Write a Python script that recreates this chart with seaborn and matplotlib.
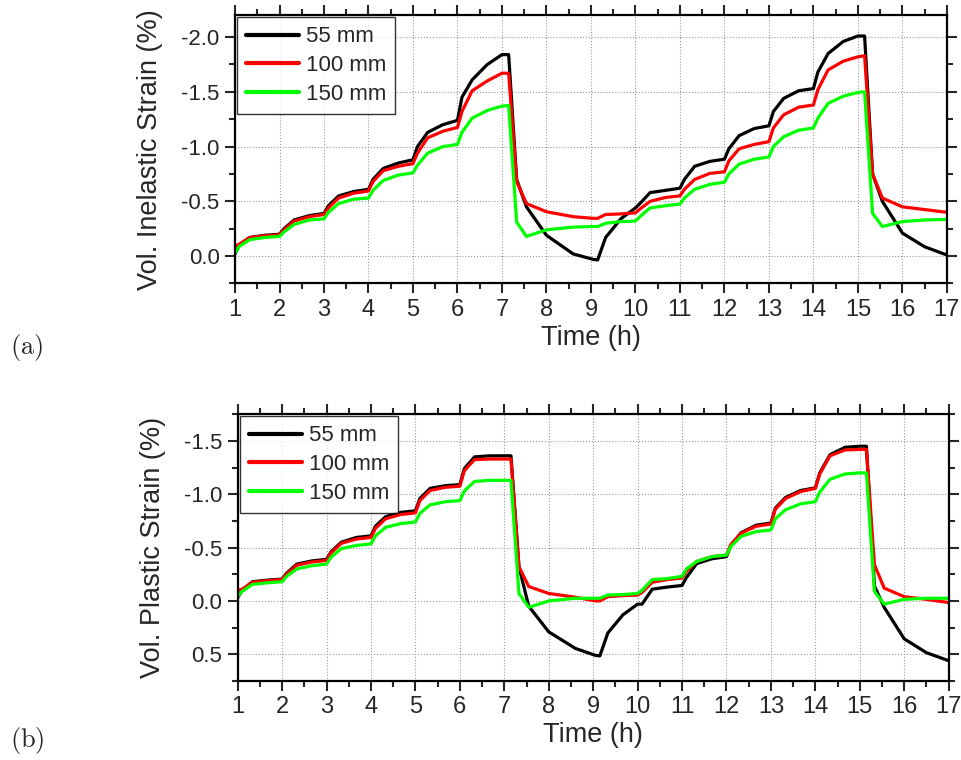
import numpy as np
import pandas as pd
import matplotlib
matplotlib.use('Agg')
import matplotlib.pyplot as plt
import seaborn as sns
from matplotlib.ticker import MultipleLocator

# time points (h), shared by all series
time_h = [1.0, 1.1, 1.33, 1.67, 2.0, 2.1, 2.33, 2.67, 3.0, 3.1, 3.33, 3.67,
          4.0, 4.1, 4.33, 4.67, 5.0, 5.1, 5.33, 5.67, 6.0, 6.1, 6.33, 6.67,
          7.0, 7.15, 7.33, 7.55, 8.0, 8.6, 9.05, 9.15, 9.33, 9.67,
          10.0, 10.1, 10.33, 10.67, 11.0, 11.1, 11.33, 11.67, 12.0, 12.1, 12.33, 12.67,
          13.0, 13.1, 13.33, 13.67, 14.0, 14.1, 14.33, 14.67, 15.0, 15.15,
          15.33, 15.55, 16.0, 16.5, 17.0]

labels = ['55 mm', '100 mm', '150 mm']
colors = ['black', 'red', '#00ff00']

# (a) volumetric inelastic strain (%)
inel_55 = [-0.02, -0.10, -0.17, -0.19, -0.20, -0.25, -0.33, -0.37, -0.39, -0.46, -0.55, -0.59,
           -0.61, -0.70, -0.80, -0.85, -0.88, -1.00, -1.13, -1.20, -1.24, -1.45, -1.61, -1.75,
           -1.84, -1.84, -0.70, -0.45, -0.19, -0.02, 0.03, 0.035, -0.17, -0.34,
           -0.44, -0.48, -0.58, -0.60, -0.62, -0.70, -0.82, -0.865, -0.885, -0.98, -1.10, -1.165,
           -1.19, -1.32, -1.44, -1.51, -1.53, -1.68, -1.85, -1.96, -2.01, -2.01,
           -0.75, -0.50, -0.21, -0.085, -0.01]
inel_100 = [-0.09, -0.11, -0.17, -0.185, -0.195, -0.24, -0.32, -0.36, -0.38, -0.44, -0.53, -0.575,
            -0.595, -0.68, -0.78, -0.82, -0.845, -0.94, -1.08, -1.14, -1.175, -1.32, -1.51, -1.60,
            -1.67, -1.67, -0.68, -0.48, -0.405, -0.36, -0.345, -0.345, -0.38, -0.385,
            -0.395, -0.43, -0.50, -0.535, -0.55, -0.61, -0.70, -0.755, -0.77, -0.87, -0.98, -1.02,
            -1.045, -1.17, -1.29, -1.36, -1.38, -1.52, -1.70, -1.78, -1.82, -1.83,
            -0.75, -0.53, -0.45, -0.425, -0.40]
inel_150 = [-0.03, -0.09, -0.15, -0.17, -0.18, -0.22, -0.29, -0.33, -0.34, -0.40, -0.48, -0.52,
            -0.53, -0.60, -0.69, -0.74, -0.76, -0.83, -0.94, -1.00, -1.02, -1.13, -1.26, -1.33,
            -1.37, -1.375, -0.31, -0.18, -0.24, -0.265, -0.27, -0.27, -0.30, -0.315,
            -0.32, -0.36, -0.44, -0.46, -0.475, -0.53, -0.61, -0.655, -0.675, -0.75, -0.84, -0.885,
            -0.905, -1.00, -1.09, -1.15, -1.17, -1.26, -1.395, -1.46, -1.495, -1.50,
            -0.39, -0.27, -0.315, -0.33, -0.335]

# (b) volumetric plastic strain (%)
plas_55 = [-0.03, -0.10, -0.18, -0.195, -0.205, -0.26, -0.345, -0.375, -0.39, -0.46, -0.55, -0.595,
           -0.61, -0.70, -0.79, -0.83, -0.845, -0.96, -1.055, -1.08, -1.09, -1.24, -1.35, -1.36,
           -1.36, -1.36, -0.32, 0.05, 0.29, 0.445, 0.51, 0.515, 0.30, 0.13,
           0.03, 0.03, -0.11, -0.13, -0.145, -0.22, -0.35, -0.395, -0.415, -0.52, -0.64, -0.71,
           -0.73, -0.87, -0.97, -1.035, -1.06, -1.20, -1.37, -1.44, -1.45, -1.45,
           -0.14, 0.06, 0.355, 0.485, 0.56]
plas_100 = [-0.10, -0.11, -0.175, -0.19, -0.20, -0.25, -0.335, -0.365, -0.38, -0.45, -0.54, -0.58,
            -0.595, -0.68, -0.77, -0.81, -0.825, -0.94, -1.035, -1.065, -1.075, -1.22, -1.325, -1.33,
            -1.33, -1.33, -0.32, -0.135, -0.07, -0.035, 0.0, 0.0, -0.04, -0.05,
            -0.055, -0.08, -0.175, -0.20, -0.215, -0.28, -0.37, -0.415, -0.43, -0.53, -0.635, -0.70,
            -0.72, -0.86, -0.96, -1.025, -1.055, -1.19, -1.36, -1.415, -1.42, -1.42,
            -0.34, -0.12, -0.04, -0.015, 0.015]
plas_150 = [-0.04, -0.09, -0.155, -0.17, -0.18, -0.23, -0.30, -0.33, -0.345, -0.41, -0.49, -0.52,
            -0.535, -0.61, -0.69, -0.725, -0.74, -0.82, -0.90, -0.93, -0.94, -1.03, -1.12, -1.13,
            -1.13, -1.13, -0.07, 0.06, 0.0, -0.025, -0.025, -0.025, -0.055, -0.06,
            -0.07, -0.10, -0.20, -0.21, -0.23, -0.30, -0.37, -0.415, -0.43, -0.51, -0.605, -0.65,
            -0.665, -0.77, -0.855, -0.91, -0.93, -1.02, -1.14, -1.19, -1.20, -1.20,
            -0.09, 0.03, -0.015, -0.025, -0.025]


def long_frame(series):
    parts = []
    for lab, vals in zip(labels, series):
        parts.append(pd.DataFrame({'Time': time_h, 'Strain': vals, 'Sample': lab}))
    return pd.concat(parts, ignore_index=True)


sns.set_style('ticks')
plt.rcParams['font.family'] = ['Liberation Sans', 'DejaVu Sans']
plt.rcParams['mathtext.fontset'] = 'cm'

fig = plt.figure(figsize=(9.62, 7.6), dpi=100)
ax1 = fig.add_axes([0.2443, 0.627, 0.740, 0.353])
ax2 = fig.add_axes([0.2471, 0.104, 0.739, 0.351])

panels = [
    (ax1, [inel_55, inel_100, inel_150], 'Vol. Inelastic Strain (%)', (0.25, -2.2)),
    (ax2, [plas_55, plas_100, plas_150], 'Vol. Plastic Strain (%)', (0.75, -1.75)),
]

for ax, series, ylab, ylim in panels:
    df = long_frame(series)
    sns.lineplot(data=df, x='Time', y='Strain', hue='Sample', palette=dict(zip(labels, colors)),
                 linewidth=2.3, sort=False, ax=ax)
    ax.set_xlim(1, 17)
    ax.set_ylim(*ylim)
    ax.xaxis.set_major_locator(MultipleLocator(1))
    ax.xaxis.set_minor_locator(MultipleLocator(0.5))
    ax.yaxis.set_major_locator(MultipleLocator(0.5))
    ax.yaxis.set_minor_locator(MultipleLocator(0.25))
    ax.yaxis.set_major_formatter(matplotlib.ticker.FormatStrFormatter('%.1f'))
    ax.grid(True, which='major', linestyle=':', color='#999999', linewidth=0.8)
    ax.tick_params(which='both', direction='out', top=True, right=True, width=1.5)
    ax.tick_params(which='major', length=7)
    ax.tick_params(which='minor', length=4)
    ax.tick_params(axis='x', labelsize=17, pad=4)
    ax.tick_params(axis='y', labelsize=16, pad=4)
    for sp in ax.spines.values():
        sp.set_linewidth(1.6)
        sp.set_color('black')
    ax.set_xlabel('Time (h)', fontsize=19.5, labelpad=3)
    ax.set_ylabel(ylab, fontsize=19.5, labelpad=13)
    leg = ax.legend(loc='upper left', fontsize=16, frameon=True, fancybox=False,
                    borderaxespad=0.1, handlelength=2.4, handletextpad=0.3,
                    labelspacing=0.35, borderpad=0.4)
    leg.get_frame().set_edgecolor('black')
    leg.get_frame().set_linewidth(1.0)
    for h in leg.get_lines():
        h.set_linewidth(3.0)

fig.text(0.01, 0.543, r'$\mathrm{(a)}$', fontsize=19, va='center', ha='left')
fig.text(0.01, 0.026, r'$\mathrm{(b)}$', fontsize=19, va='center', ha='left')

fig.savefig('out.png', dpi=100)
